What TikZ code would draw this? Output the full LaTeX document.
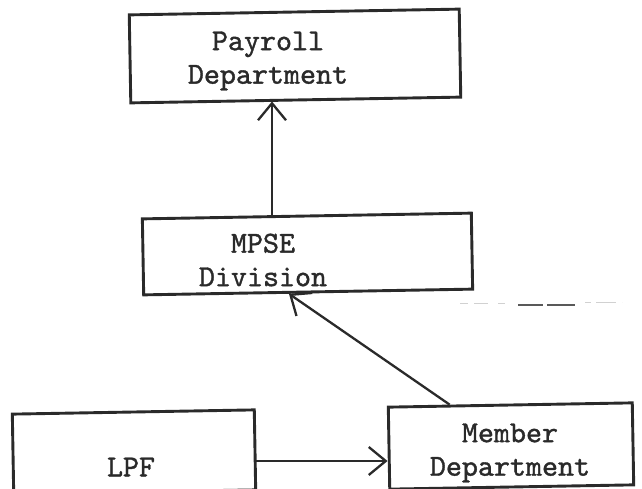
\documentclass[tikz,border=0pt]{standalone}
\usepackage{fontspec}
\usetikzlibrary{arrows.meta}
\newfontfamily\typewriter{lmmono10-regular.otf}[FakeBold=1.2]
\definecolor{ink}{HTML}{2A2A2A}
\begin{document}
\begin{tikzpicture}[x=1pt,y=-1pt,
  box/.style={draw=ink, line width=2.9pt, rotate=1, inner sep=0pt},
  lbl/.style={text=ink, align=center, inner sep=0pt,
    font=\fontsize{30.5}{33.5}\selectfont\typewriter},
  link/.style={draw=ink, line width=2.3pt,
    -{Straight Barb[length=17pt,width=28pt,line width=2.3pt]}}]
\useasboundingbox (0,0) rectangle (642,489);
\clip (0,0) rectangle (642,489);

% boxes
\node[box, minimum width=330pt, minimum height=88pt] (pay) at (295,56) {};
\node[box, minimum width=329pt, minimum height=76pt] (mpse) at (307.5,254) {};
\node[box, minimum width=242pt, minimum height=80pt] (lpf) at (134,452) {};
\node[box, minimum width=244pt, minimum height=82pt] (mem) at (511,446) {};

% labels
\node[lbl] (payt) at (268,61) {Payroll\\Department};
\node[lbl] (mpset) at (263,260) {MPSE\\Division};
\node[lbl] (lpft) at (131,467) {LPF};
\node[lbl] (memt) at (510,453) {Member\\Department};

% connector guides
\coordinate (vx) at (272,0);
\coordinate (hy) at (0,461);

% connectors
\draw[link] (mpse.north -| vx) -- (pay.south -| vx);
\draw[link] (mem.145) -- (mpse.244);
\draw[link] (lpf.east |- hy) -- (mem.west |- hy);

% faint smudge to the right of the division box
\draw[black!18, line width=1pt, dash pattern=on 8pt off 6pt on 14pt off 10pt]
  (460,303) -- (505,303);
\draw[black!65, line width=1.2pt, dash pattern=on 25pt off 4pt on 28pt off 3pt]
  (518,305) -- (576,305);
\draw[black!18, line width=1pt, dash pattern=on 6pt off 5pt on 20pt off 6pt]
  (585,302) -- (622,302);
\end{tikzpicture}
\end{document}
